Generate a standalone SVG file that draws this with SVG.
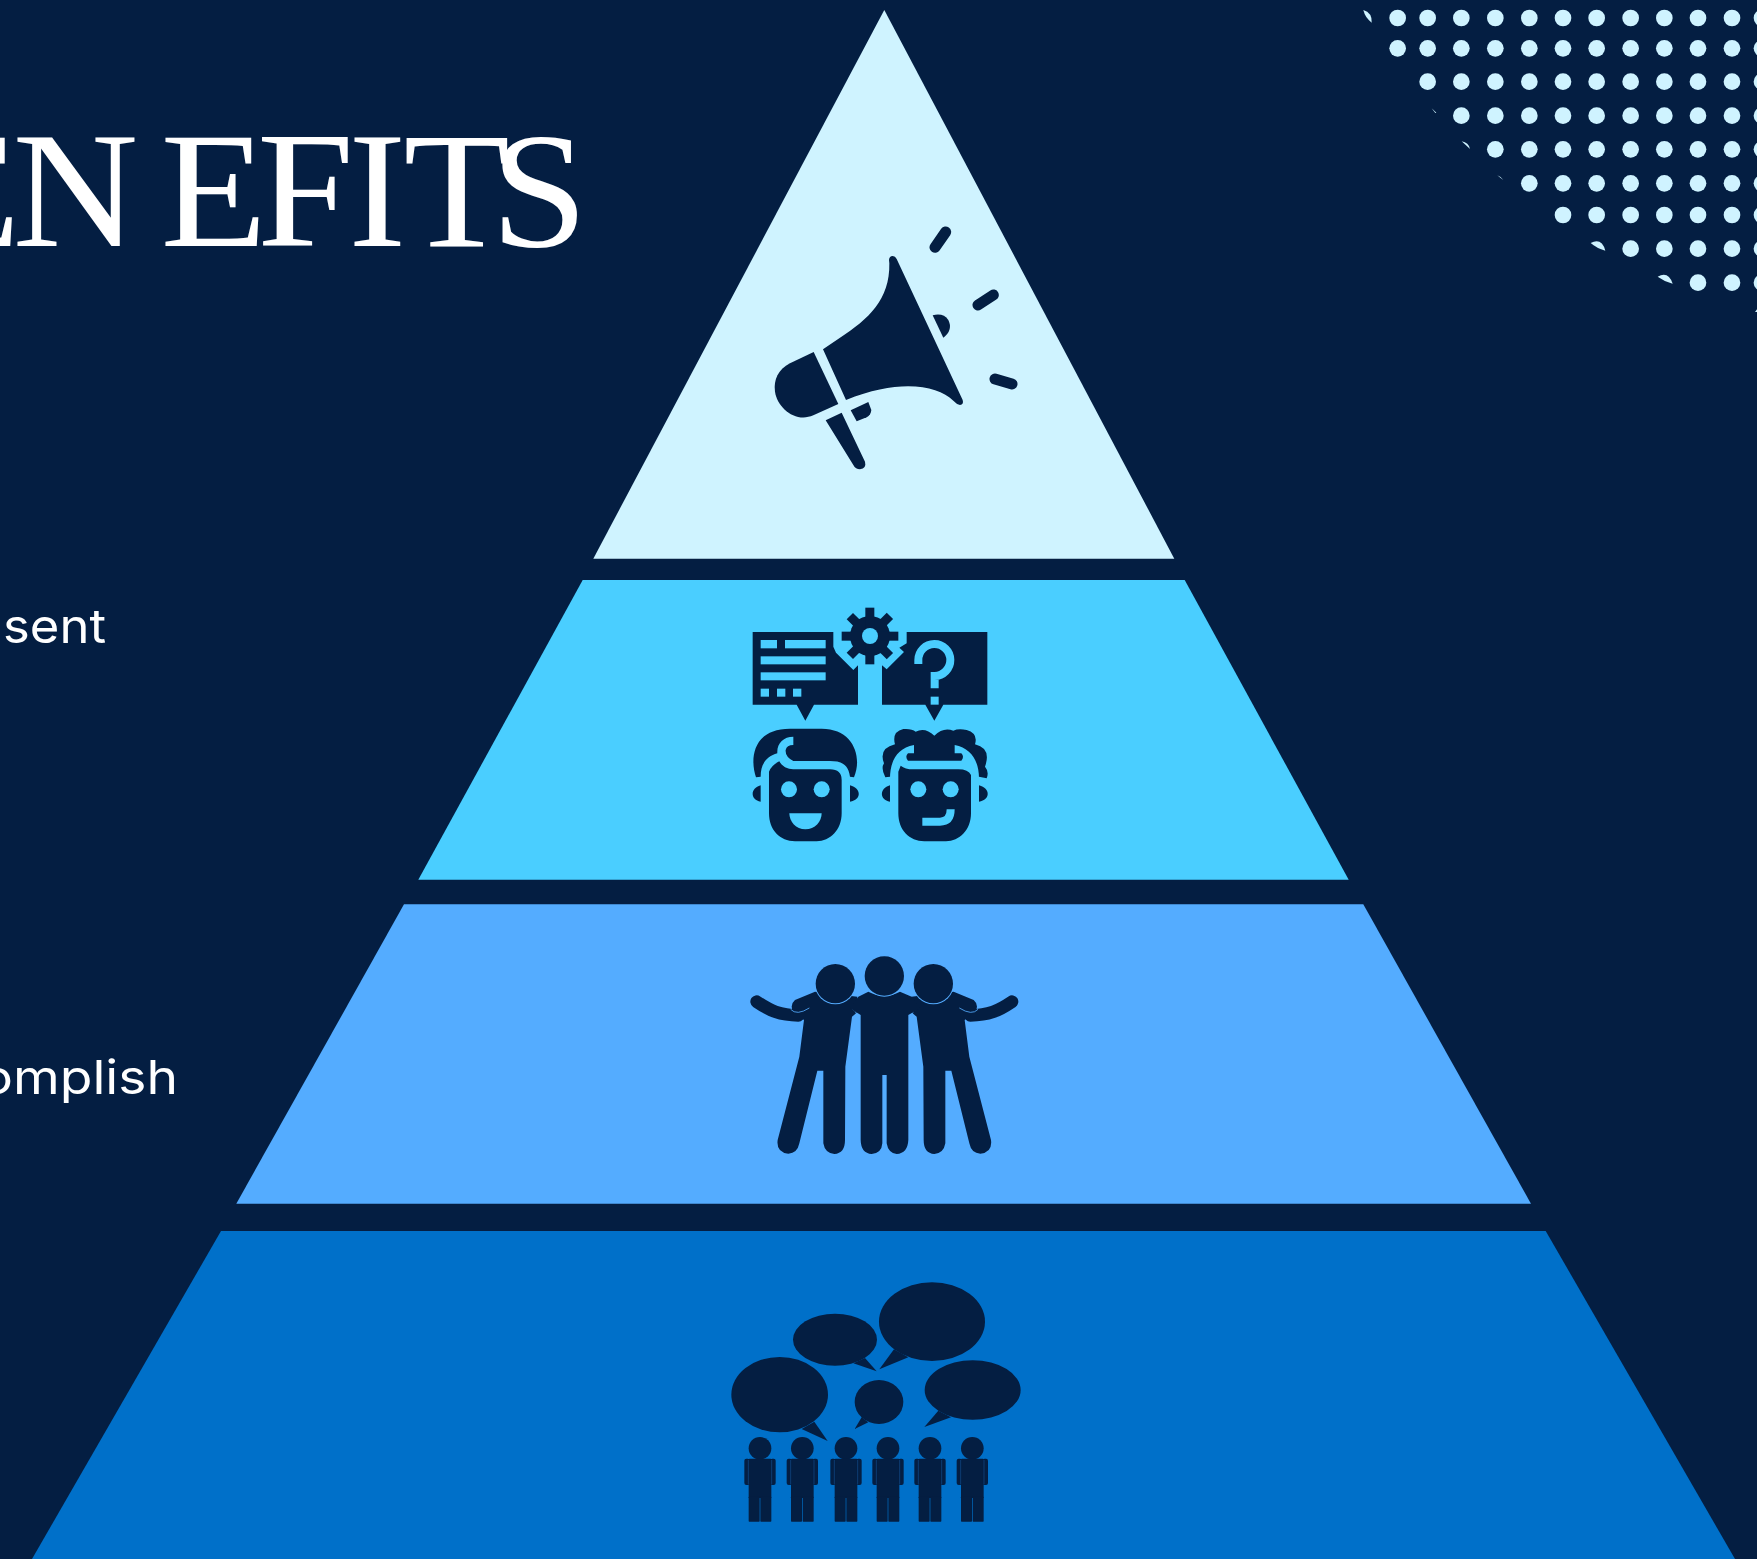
<svg xmlns="http://www.w3.org/2000/svg" width="1757" height="1559" viewBox="0 0 1757 1559">
<style>
.d{fill:#041E42}
.dot{fill:#CFF3FF}
.t2{fill:#4ACEFF}
.t3{fill:#54ACFF}
.t4{fill:#0070C9}
.title{font-family:"Liberation Serif","Times New Roman",serif;font-size:166px;fill:#fff}
.body{font-family:Inter,"Liberation Sans",sans-serif;font-size:47px;fill:#fff}
</style>
<defs>
<g id="person">
<circle cx="0" cy="535" r="34" class="d"/>
<rect x="-34" y="566" width="68" height="118" rx="3" class="d"/>
<rect x="-34" y="680" width="33" height="75" rx="2" class="d"/>
<rect x="1" y="680" width="33" height="75" rx="2" class="d"/>
<rect x="-47" y="566" width="16" height="79" rx="6" class="d"/>
<rect x="31" y="566" width="16" height="79" rx="6" class="d"/>
<path d="M-35,570V642M35,570V642" fill="none" stroke="#124C8C" stroke-width="2"/>
</g>
<g id="figure">
<path d="M50,185C90,212 120,226 175,226" fill="none" stroke="#041E42" stroke-width="38" stroke-linecap="round"/>
<path class="d" d="M225,155L165,180Q148,195 160,215Q180,230 192,240L178,350L113,600Q108,638 145,641Q172,640 178,610L232,392L250,392L250,610Q255,640 283,642Q315,640 315,600L316,380L336,230L350,218L352,170Z"/>
<path d="M152,208Q170,228 208,204" fill="none" stroke="#54ACFF" stroke-width="2.5"/>
<path d="M334,205Q348,212 350,222" fill="none" stroke="#54ACFF" stroke-width="2.5"/>
</g>
</defs>
<rect width="1757" height="1559" fill="#041E42"/>

<g id="title"><text class="title" transform="scale(1.05 1)" y="246" x="-82 11.9 125 152.8 244.7 331.7 384.3 467.5">EN EFITS</text></g>
<g id="label-1"><text class="body" x="3" y="643" textLength="103" lengthAdjust="spacingAndGlyphs">sent</text></g>
<g id="label-2"><text class="body" x="-19" y="1094" textLength="197" lengthAdjust="spacingAndGlyphs">omplish</text></g>

<g id="dots" transform="translate(1340 0) scale(.33333)" class="dot">
<g id="r1"><circle cx="173" cy="54" r="25"/><circle cx="263" cy="54" r="25"/><circle cx="364" cy="54" r="25"/><circle cx="466" cy="54" r="25"/><circle cx="568" cy="54" r="25"/><circle cx="669" cy="54" r="25"/><circle cx="770" cy="54" r="25"/><circle cx="872" cy="54" r="25"/><circle cx="973" cy="54" r="25"/><circle cx="1074" cy="54" r="25"/><circle cx="1176" cy="54" r="25"/><circle cx="1266" cy="54" r="25"/></g>
<g id="r2"><circle cx="173" cy="145" r="25"/><circle cx="263" cy="145" r="25"/><circle cx="364" cy="145" r="25"/><circle cx="466" cy="145" r="25"/><circle cx="568" cy="145" r="25"/><circle cx="669" cy="145" r="25"/><circle cx="770" cy="145" r="25"/><circle cx="872" cy="145" r="25"/><circle cx="973" cy="145" r="25"/><circle cx="1074" cy="145" r="25"/><circle cx="1176" cy="145" r="25"/><circle cx="1266" cy="145" r="25"/></g>
<g id="r3"><circle cx="263" cy="245" r="25"/><circle cx="364" cy="245" r="25"/><circle cx="466" cy="245" r="25"/><circle cx="568" cy="245" r="25"/><circle cx="669" cy="245" r="25"/><circle cx="770" cy="245" r="25"/><circle cx="872" cy="245" r="25"/><circle cx="973" cy="245" r="25"/><circle cx="1074" cy="245" r="25"/><circle cx="1176" cy="245" r="25"/><circle cx="1266" cy="245" r="25"/></g>
<g id="r4"><circle cx="364" cy="347" r="25"/><circle cx="466" cy="347" r="25"/><circle cx="568" cy="347" r="25"/><circle cx="669" cy="347" r="25"/><circle cx="770" cy="347" r="25"/><circle cx="872" cy="347" r="25"/><circle cx="973" cy="347" r="25"/><circle cx="1074" cy="347" r="25"/><circle cx="1176" cy="347" r="25"/><circle cx="1266" cy="347" r="25"/></g>
<g id="r5"><circle cx="466" cy="448" r="25"/><circle cx="568" cy="448" r="25"/><circle cx="669" cy="448" r="25"/><circle cx="770" cy="448" r="25"/><circle cx="872" cy="448" r="25"/><circle cx="973" cy="448" r="25"/><circle cx="1074" cy="448" r="25"/><circle cx="1176" cy="448" r="25"/><circle cx="1266" cy="448" r="25"/></g>
<g id="r6"><circle cx="568" cy="550" r="25"/><circle cx="669" cy="550" r="25"/><circle cx="770" cy="550" r="25"/><circle cx="872" cy="550" r="25"/><circle cx="973" cy="550" r="25"/><circle cx="1074" cy="550" r="25"/><circle cx="1176" cy="550" r="25"/><circle cx="1266" cy="550" r="25"/></g>
<g id="r7"><circle cx="669" cy="645" r="25"/><circle cx="770" cy="645" r="25"/><circle cx="872" cy="645" r="25"/><circle cx="973" cy="645" r="25"/><circle cx="1074" cy="645" r="25"/><circle cx="1176" cy="645" r="25"/><circle cx="1266" cy="645" r="25"/></g>
<g id="r8"><circle cx="872" cy="746" r="25"/><circle cx="973" cy="746" r="25"/><circle cx="1074" cy="746" r="25"/><circle cx="1176" cy="746" r="25"/><circle cx="1266" cy="746" r="25"/></g>
<g id="r9"><circle cx="1074" cy="848" r="25"/><circle cx="1176" cy="848" r="25"/><circle cx="1266" cy="848" r="25"/></g>
<path d="M70,30Q97,38 95,68Q75,52 70,30Z"/>
<path d="M275,325L289,338L286,339Z"/>
<path d="M365,424Q386,428 390,447Q378,436 365,424Z"/>
<path d="M472,526Q482,530 490,540Q480,533 472,526Z"/>
<path d="M752,729Q785,712 796,752Q770,745 752,729Z"/>
<path d="M953,830Q985,812 998,851Q972,844 953,830Z"/>
<path d="M1245,936L1251,928L1251,936Z"/>
</g>

<g id="level-1">
<polygon class="dot" points="884.3,10 1174.3,558.7 593.3,558.7"/>
<g transform="translate(740 210) scale(.33333)" class="d">
<path d="M249,418L300,383C385,328 450,270 448,160L447,150Q448,138 458,138Q466,138 470,147L668,570Q672,583 660,585Q650,583 640,572C590,526 480,505 318,570Z"/>
<path d="M221,426L150,460C115,478 100,510 105,545C112,592 165,640 220,616L295,582Z"/>
<path d="M257,631L305,608L375,755Q380,775 360,778Q347,778 340,765Z"/>
<path d="M332,601L385,576L394,600Q393,615 380,622L350,634Z"/>
<path d="M578,316Q610,308 625,330Q640,360 610,383Z"/>
<path d="M585,112L617,66M714,285L760,255M765,507L816,522" fill="none" stroke="#041E42" stroke-width="33" stroke-linecap="round"/>
</g>
</g>

<g id="level-2">
<polygon class="t2" points="582.7,580 1184.7,580 1348.7,879.7 418.3,879.7"/>
<g transform="translate(740 600) scale(.33333)">
<g class="d">
<path d="M38,96H280V140L288,158L340,210L354,196V314H222L196,362L170,314H38Z"/>
<path d="M426,196L440,208L492,156L478,143L500,130V96H742V314H610L583,362L556,314H426Z"/>
<circle cx="390" cy="108" r="60"/>
<rect x="305" y="95" width="170" height="27"/>
<rect x="305" y="95" width="170" height="27" transform="rotate(45 390 108)"/>
<rect x="305" y="95" width="170" height="27" transform="rotate(90 390 108)"/>
<rect x="305" y="95" width="170" height="27" transform="rotate(135 390 108)"/>
</g>
<g class="t2">
<circle cx="390" cy="108" r="24"/>
<rect x="62" y="120" width="49" height="25"/><rect x="135" y="120" width="122" height="25"/>
<rect x="62" y="169" width="195" height="24"/><rect x="62" y="217" width="195" height="24"/>
<rect x="62" y="266" width="25" height="24"/><rect x="111" y="266" width="25" height="24"/><rect x="159" y="266" width="25" height="24"/>
<rect x="572" y="290" width="24" height="24"/>
</g>
<path d="M535,192V180A48,48 0 1 1 584,228V265" fill="none" stroke="#4ACEFF" stroke-width="24"/>
<g class="d">
<path d="M48,532C30,480 35,386 150,386H245C340,386 368,470 342,532L330,530C325,490 300,483 270,483H160Q135,470 137,450Q140,435 160,435V410C130,410 110,430 112,460C80,470 62,490 62,530Z"/>
<path d="M118,484C130,505 150,508 165,508H270Q305,508 305,540V640C305,690 270,724 230,724H165C120,724 87,690 87,640V515Q95,495 118,484Z"/>
<path d="M62,556C30,565 30,600 62,605ZM330,556C365,565 365,600 330,605Z"/>
<path d="M436,532Q422,505 432,490Q415,445 465,433Q455,395 490,387Q515,385 527,395Q555,380 583,407Q610,380 640,392Q655,385 680,390Q715,400 705,433Q755,445 735,500Q748,515 740,535L717,530H450Z"/>
</g>
<path class="t2" d="M450,535C450,485 470,445 522,435V460H504Q494,470 504,482H664Q674,470 664,460H644V435C695,445 717,485 717,535Z"/>
<g class="d">
<path d="M482,497Q495,508 520,508H655Q685,508 693,525V640C693,690 658,724 618,724H553C508,724 475,690 475,640V515Z"/>
<path d="M450,556C418,565 418,600 450,605ZM717,556C752,565 752,600 717,605Z"/>
</g>
<g class="t2">
<circle cx="147" cy="568" r="24"/><circle cx="245" cy="568" r="24"/>
<path d="M148,640H245C245,665 225,688 196,688C168,688 148,665 148,640Z"/>
<circle cx="535" cy="568" r="24"/><circle cx="632" cy="568" r="24"/>
</g>
<path d="M547,665H600Q632,665 632,628" fill="none" stroke="#4ACEFF" stroke-width="24"/>
</g>
</g>

<g id="level-3">
<polygon class="t3" points="404,904.3 1363.3,904.3 1531,1203.7 236.3,1203.7"/>
<g transform="translate(740 940) scale(.33333)">
<use href="#figure"/>
<use href="#figure" transform="translate(866 0) scale(-1 1)"/>
<path class="d" d="M355,170L385,155Q433,180 480,155L515,170L540,205L505,225V600Q503,640 470,642Q445,640 440,610V405H427V610Q425,640 395,642Q363,640 362,600V225L330,205Z"/>
<circle cx="286" cy="131" r="62" class="t3"/><circle cx="433" cy="108" r="62" class="t3"/><circle cx="580" cy="131" r="62" class="t3"/>
<circle cx="286" cy="131" r="59" class="d"/><circle cx="433" cy="108" r="59" class="d"/><circle cx="580" cy="131" r="59" class="d"/>
</g>
</g>

<g id="level-4">
<polygon class="t4" points="221,1231 1545.7,1231 1735,1559 32,1559"/>
<g transform="translate(720 1270) scale(.33333)" class="d">
<ellipse cx="636" cy="155" rx="159" ry="118"/><path d="M522,238L478,298L565,262Z"/>
<ellipse cx="345" cy="209" rx="126" ry="78"/><path d="M435,264L470,304L400,280Z"/>
<ellipse cx="179" cy="374" rx="145" ry="113"/><path d="M283,455L323,513L245,477Z"/>
<ellipse cx="477" cy="396" rx="73" ry="66"/><path d="M425,442L404,477L445,457Z"/>
<ellipse cx="758" cy="360" rx="144" ry="89"/><path d="M655,422L613,471L693,442Z"/>
<use href="#person" x="120"/><use href="#person" x="247"/><use href="#person" x="378"/><use href="#person" x="504"/><use href="#person" x="630"/><use href="#person" x="757"/>
</g>
</g>
</svg>
